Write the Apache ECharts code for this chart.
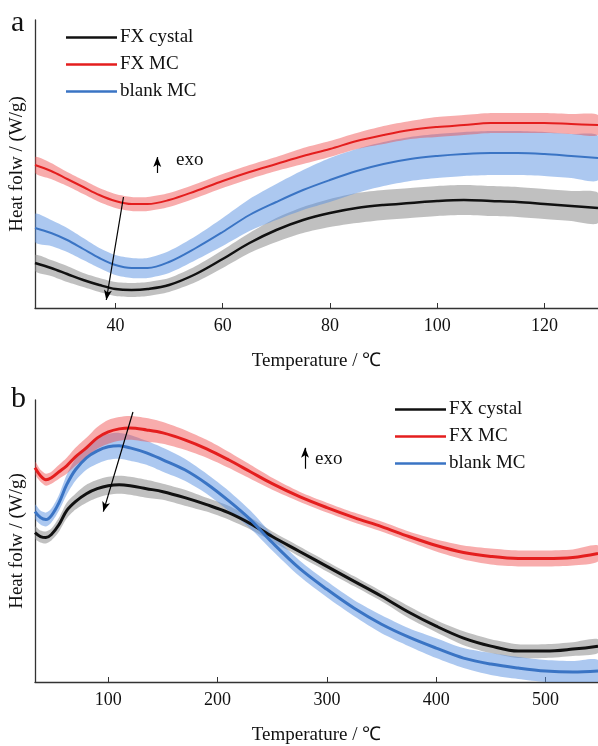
<!DOCTYPE html>
<html>
<head>
<meta charset="utf-8">
<script src="https://cdn.jsdelivr.net/npm/echarts@6/dist/echarts.min.js"></script>
<style>html,body{margin:0;padding:0;background:#fff;}#chart{width:598px;height:746px;}</style>
</head>
<body>
<div id="chart"></div>
<script>
// ---------- Panel a data (Temperature in ℃, heat flow in arbitrary units) ----------
const tempA = [25,28,31,34,37,40,43,46,50,55,60,65,70,75,80,85,90,95,100,105,110,115,120,125,130];
const fxCrystalA = [45,40,34,28,23,19,18,19,23,34,49,65,78,88,95,100,103,105,107,108,107,106,104,102,100];
const fxMcA = [143,137,129,121,113,107,104,104,108,117,127,136,144,152,159,167,173,178,181,183,185,185,185,184,183];
const blankMcA = [80,75,68,59,50,43,40,40,46,60,76,93,106,118,128,137,144,149,152,154,155,155,154,152,150];
const fxCrystalBandA = [8,8,8,7,7,7,7,7,7,8,9,10,12,13,14,15,15,15,15,15,15,15,15,15,15];
const fxMcBandA = [8,8,7,7,7,7,7,7,7,7,7,7,7,8,8,8,9,9,10,10,10,10,10,10,10];
const blankMcBandA = [14,13,12,11,10,10,10,10,11,12,14,16,18,20,22,22,22,22,22,22,22,22,22,22,22];
const ticksA = [40,60,80,100,120];

// ---------- Panel b data ----------
const tempB = [33,38,43,48,55,62,70,80,90,100,110,120,135,150,170,190,210,230,250,275,300,325,350,375,400,425,450,475,500,525,548];
const fxCrystalB = [150,146,145,148,158,172,181,189,194,197,198,197,194,191,185,178,170,159,146,131,116,101,86,70,56,44,36,31,31,33,36];
const fxMcB = [215,207,203,205,211,217,226,235,245,251,254,255,253,250,243,234,223,211,199,186,175,165,156,146,137,130,126,124,124,125,129];
const blankMcB = [171,165,163,167,180,198,213,225,232,236,237,235,230,223,213,199,182,163,140,114,93,74,58,45,34,24,18,14,11,10,11];
const fxCrystalBandB = [6,6,6,6,7,8,8,9,9,9,9,9,9,8,8,7,7,6,5,5,5,5,5,6,6,7,7,7,7,7,7];
const fxMcBandB = [6,6,6,6,7,8,9,10,11,12,12,12,12,11,10,9,8,7,6,5,5,5,5,5,6,7,8,8,8,8,8];
const blankMcBandB = [7,7,7,7,8,10,11,12,13,13,13,13,12,12,11,10,10,9,8,8,8,8,9,9,10,10,11,11,11,11,11];
const ticksB = [100,200,300,400,500];

const seriesNames = ['FX cystal','FX MC','blank MC'];
// annotation arrows [x1,y1,x2,y2] in data units
const trendArrowA = [41.5,111,38.3,8];
const exoArrowA = [47.8,135,47.8,151];
const trendArrowB = [122.6,271,95.5,171];
const exoArrowB = [280,214,280,235];

const FONT = '"Liberation Serif","Times New Roman",serif';
const lineColors = ['#111111','#e41e1e','#3a74c4'];
const bandColors = ['rgba(140,140,140,0.55)','rgba(240,70,70,0.45)','rgba(90,145,225,0.5)'];

function bandSeries(xs, center, hw, idx, gi) {
  const data = xs.map((x,i)=>[x, center[i]-hw[i], center[i]+hw[i]]);
  return {type:'custom', xAxisIndex:gi, yAxisIndex:gi, data:data, silent:true, z:1, clip:true,
    encode:{x:0, y:[1,2]},
    renderItem:function(params, api){
      if (params.dataIndex !== 0) return null;
      const up = data.map(d=>api.coord([d[0], d[2]]));
      const lo = data.map(d=>api.coord([d[0], d[1]])).reverse();
      return {type:'polygon', shape:{points:up.concat(lo), smooth:0.25},
        style:{fill:bandColors[idx], stroke:null}};
    }};
}
function centerSeries(xs, center, idx, gi, width, extra) {
  return Object.assign({type:'line', name:seriesNames[idx], xAxisIndex:gi, yAxisIndex:gi,
    data:xs.map((x,i)=>[x,center[i]]), smooth:0.35, showSymbol:false, symbol:'none', color:lineColors[idx],
    lineStyle:{color:lineColors[idx], width:width}, z:3}, extra||{});
}
function arrowML(arrs) {
  return {silent:true, symbol:['none','arrow'], symbolSize:[6,10], label:{show:false},
    lineStyle:{color:'#000', width:1.2, type:'solid'},
    data: arrs.map(a=>[{coord:[a[0],a[1]]},{coord:[a[2],a[3]]}])};
}

const series = [];
[[fxCrystalA,fxCrystalBandA],[blankMcA,blankMcBandA],[fxMcA,fxMcBandA]].forEach((p,i)=>{
  series.push(bandSeries(tempA,p[0],p[1],[0,2,1][i],0));
});
[[fxCrystalB,fxCrystalBandB],[blankMcB,blankMcBandB],[fxMcB,fxMcBandB]].forEach((p,i)=>{
  series.push(bandSeries(tempB,p[0],p[1],[0,2,1][i],1));
});
series.push(centerSeries(tempA,fxCrystalA,0,0,2.5,{markLine:arrowML([trendArrowA,exoArrowA])}));
series.push(centerSeries(tempA,fxMcA,1,0,2));
series.push(centerSeries(tempA,blankMcA,2,0,2));
series.push(centerSeries(tempB,fxCrystalB,0,1,3,{markLine:arrowML([trendArrowB,exoArrowB])}));
series.push(centerSeries(tempB,fxMcB,1,1,3));
series.push(centerSeries(tempB,blankMcB,2,1,3));

function xAxis(gi,min,max,ticks){
  return {type:'value', gridIndex:gi, min:min, max:max, name:'Temperature / ℃', nameLocation:'middle', nameGap:44,
    nameTextStyle:{fontFamily:FONT, fontSize:19, color:'#111'},
    axisLine:{lineStyle:{color:'#333', width:1.3}},
    axisTick:{inside:true, length:5, customValues:ticks, lineStyle:{color:'#333'}},
    axisLabel:{customValues:ticks, fontFamily:FONT, fontSize:18, color:'#111', margin:9},
    splitLine:{show:false}};
}
function yAxis(gi,max){
  return {type:'value', gridIndex:gi, min:0, max:max, name:'Heat folw / (W/g)', nameLocation:'middle', nameGap:8, nameRotate:90,
    nameTextStyle:{fontFamily:FONT, fontSize:19, color:'#111'},
    axisLine:{show:true, lineStyle:{color:'#333', width:1.3}}, axisTick:{show:false}, axisLabel:{show:false}, splitLine:{show:false}};
}
const legendBase = {data:seriesNames, orient:'vertical', icon:'rect', itemWidth:51, itemHeight:2.5, itemGap:8,
  selectedMode:false, textStyle:{fontFamily:FONT, fontSize:19, color:'#111', lineHeight:19, padding:[0,0,0,-2]}};

const chart = echarts.init(document.getElementById('chart'), null, {renderer:'canvas'});
chart.setOption({
  animation:false,
  backgroundColor:'#fff',
  grid:[{left:33, top:20, right:0, height:288},{left:33, top:400, right:0, height:283}],
  xAxis:[xAxis(0,25,130,ticksA), xAxis(1,33,548,ticksB)],
  yAxis:[yAxis(0,288), yAxis(1,283)],
  legend:[Object.assign({left:61, top:23}, legendBase), Object.assign({left:390, top:395}, legendBase)],
  graphic:[
    {type:'text', left:11, top:8, style:{text:'a', font:'30px '+FONT, fill:'#111'}},
    {type:'text', left:11, top:384, style:{text:'b', font:'30px '+FONT, fill:'#111'}},
    {type:'text', left:176, top:151, style:{text:'exo', font:'19px '+FONT, fill:'#111'}},
    {type:'text', left:315, top:450, style:{text:'exo', font:'19px '+FONT, fill:'#111'}}
  ],
  series:series
});
</script>
</body>
</html>
